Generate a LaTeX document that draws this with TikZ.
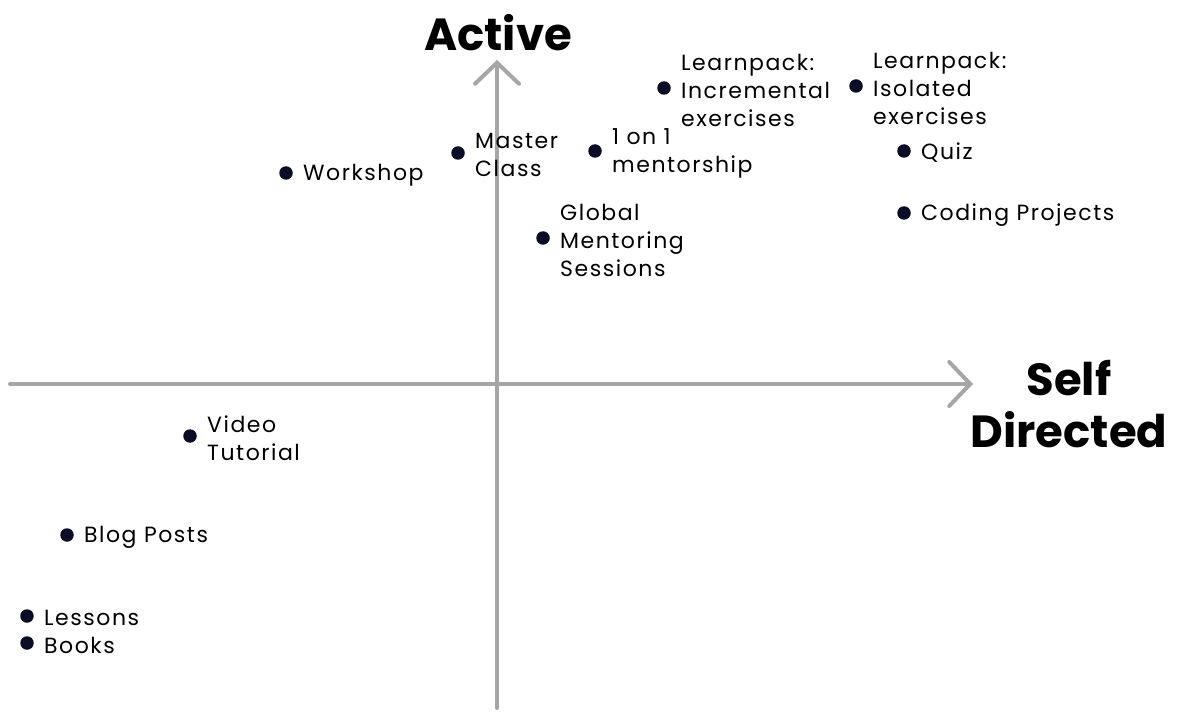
\documentclass[tikz,border=0pt]{standalone}
\usepackage{fontspec}
\setmainfont{Poppins}[LetterSpace=7]
\newfontfamily\titlefont{Poppins}
\usetikzlibrary{arrows.meta,positioning}
\definecolor{AxisGray}{HTML}{A6A6A6}
\definecolor{DotNavy}{HTML}{0B0C26}

\begin{document}
\begin{tikzpicture}[x=1pt, y=-1pt,
  node distance=10pt,
  every node/.style={font=\fontsize{22}{28}\selectfont},
  dot/.style={circle, fill=DotNavy, inner sep=0pt, minimum size=13.5pt},
  lbl/.style={align=left, inner sep=0pt, text=black, yshift=-2pt},
  axis/.style={draw=AxisGray, line width=4pt, line cap=round,
               -{Straight Barb[length=21pt, width=44pt, line cap=round]}},
  title/.style={font=\titlefont\fontsize{45}{52}\selectfont\bfseries, align=center, inner sep=0pt},
]
\useasboundingbox (0,0) rectangle (1183,719);

% axes
\coordinate (xstart) at (10,384);
\coordinate (xend)   at (973,384);
\coordinate (ystart) at (497,708);
\coordinate (yend)   at (497,60);
\draw[axis] (xstart) -- (xend);
\draw[axis] (ystart) -- (yend);

% axis titles
\node[title] (active) at (498,33) {Active};
\node[title] (selfdir) at (1069,404) {Self\\Directed};

% upper half
\node[dot] (workshop) at (286,173) {};
\node[lbl, right=of workshop] (workshoptxt) {Workshop};
\node[dot] (master) at (458,153) {};
\node[lbl, right=of master] (mastertxt) {Master\\Class};
\node[dot] (mentor) at (595,151) {};
\node[lbl, right=of mentor] (mentortxt) {1 on 1\\mentorship};
\node[dot] (global) at (543,238) {};
\node[lbl, right=of global] (globaltxt) {Global\\Mentoring\\Sessions};
\node[dot] (incr) at (664,88) {};
\node[lbl, right=of incr] (incrtxt) {Learnpack:\\Incremental\\exercises};
\node[dot] (isol) at (856,86) {};
\node[lbl, right=of isol] (isoltxt) {Learnpack:\\Isolated\\exercises};
\node[dot] (quiz) at (904,151) {};
\node[lbl, right=of quiz] (quiztxt) {Quiz};
\node[dot] (coding) at (904,213) {};
\node[lbl, right=of coding] (codingtxt) {Coding Projects};

% lower half
\node[dot] (video) at (190,436) {};
\node[lbl, right=of video] (videotxt) {Video\\Tutorial};
\node[dot] (blog) at (67,535) {};
\node[lbl, right=of blog] (blogtxt) {Blog Posts};
\node[dot] (lessons) at (27,616) {};
\node[lbl, right=of lessons] (lessonstxt) {Lessons};
\node[dot] (books) at (27,643) {};
\node[lbl, right=of books] (bookstxt) {Books};
\end{tikzpicture}
\end{document}
